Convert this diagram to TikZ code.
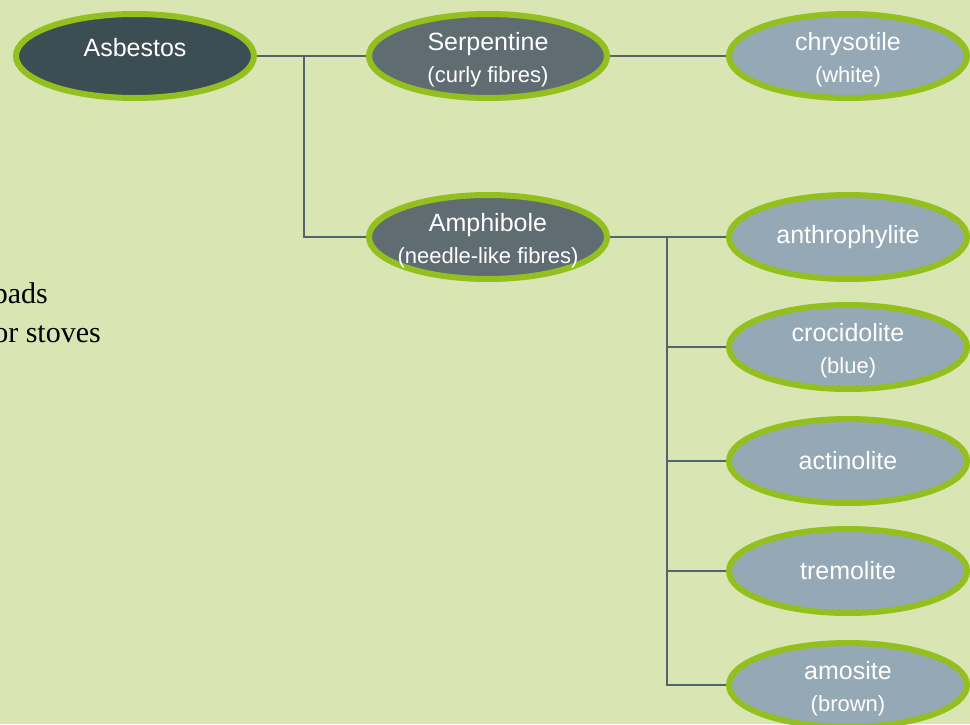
\documentclass[tikz,border=0pt]{standalone}
\usepackage{fontspec}
\setmainfont{Liberation Sans}
\newfontfamily\bodyserif{Liberation Serif}
\usetikzlibrary{shapes.geometric}

\definecolor{pagebg}{HTML}{D9E5B3}
\definecolor{rim}{HTML}{93C01F}
\definecolor{rootfill}{HTML}{3D4D54}
\definecolor{midfill}{HTML}{5F6D73}
\definecolor{leaffill}{HTML}{94A9B5}
\definecolor{wire}{HTML}{55636A}

\newcommand{\twolines}[2]{\rule{0pt}{26pt}#1\\{\fontsize{22}{32}\selectfont #2}}

\begin{document}
\begin{tikzpicture}[x=1pt, y=-1pt,
  basic/.style   = {ellipse, draw=rim, line width=6pt, text=white, align=center,
                    minimum width=238pt, minimum height=84pt,
                    inner xsep=-10pt, inner ysep=-6pt, font=\fontsize{25}{32}\selectfont},
  root/.style    = {basic, fill=rootfill},
  level 2/.style = {basic, fill=midfill},
  level 3/.style = {basic, fill=leaffill},
  link/.style    = {draw=wire, line width=1.3pt}]

	% page and its edges
	\fill[pagebg] (0,0) rectangle (970,724);
	\useasboundingbox (0,0) rectangle (970,724);
	\clip (0,0) rectangle (970,724);

	% text cut by the left edge
	\begin{scope}[every node/.style={anchor=base east, inner sep=0pt, font=\bodyserif\fontsize{30}{34}\selectfont}]
	\node (t1) at (48,303) {pads};
	\node (t2) at (101,342) {or stoves};
	\end{scope}

	% root and the two groups
	\node[root] (a) at (135,56) {\raisebox{8pt}[\height][\depth]{Asbestos}};
	\node[level 2] (c1) at (488,56) {\twolines{Serpentine}{(curly fibres)}};
	\node[level 2] (c2) at (488,237) {\twolines{Amphibole}{(needle-like fibres)}};

	% the kinds of each group
	\node[level 3] (c11) at (848,56) {\twolines{chrysotile}{(white)}};

	\node[level 3] (c21) at (848,237) {anthrophylite};
	\node[level 3] (c22) at (848,347) {\twolines{crocidolite}{(blue)}};
	\node[level 3] (c23) at (848,461) {actinolite};
	\node[level 3] (c24) at (848,571) {tremolite};
	\node[level 3] (c25) at (848,685) {\twolines{amosite}{(brown)}};

	% lines from each node to its "children"
	\coordinate (b1) at (304,56);
	\coordinate (b2) at (667,237);

	\draw[link] (a.east) -- (c1.west);
	\draw[link] (b1) |- (c2.west);
	\draw[link] (c1.east) -- (c11.west);
	\draw[link] (c2.east) -- (c21.west);

	\foreach \value in {2,...,5}
	  \draw[link] (b2) |- (c2\value.west);
\end{tikzpicture}
\end{document}
